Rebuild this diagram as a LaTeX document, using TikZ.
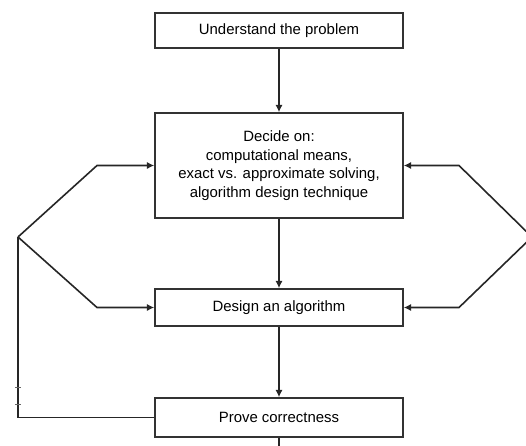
\documentclass[tikz,border=0pt]{standalone}
\usepackage{fontspec}
\setmainfont{Liberation Sans}
\usetikzlibrary{arrows.meta}

\begin{document}
\begin{tikzpicture}[x=0.75pt, y=-0.75pt,
    block/.style={draw=black!80, line width=1.2pt, minimum width=186pt, inner sep=0pt,
      align=center, font=\fontsize{11.2}{14}\selectfont},
    flow/.style={draw=black!85, line width=1.2pt, -{Latex[length=5.5pt,width=5.5pt]}},
    line/.style={draw=black!85, line width=1.2pt}]
      \useasboundingbox (0,0) rectangle (526,446);

      \node[block, minimum height=26.25pt] (understand) at (279,30.5) {Understand the problem};
      \node[block, minimum height=78.75pt] (decide) at (279,165.5)
        {Decide on:\\computational means,\\exact vs. approximate solving,\\algorithm design technique};
      \node[block, minimum height=27.75pt] (design) at (279,307.5) {Design an algorithm};
      \node[block, minimum height=29.25pt] (prove) at (279,417.5) {Prove correctness};

      % main column
      \draw[flow] (understand) to (decide);
      \draw[flow] (decide) to (design);
      \draw[flow] (design) to (prove);
      \coordinate (down) at (279,452);
      \draw[line] (prove) to (down);

      % feedback on the left
      \coordinate (lv) at (18,237);
      \coordinate (l1) at (97,165.5);
      \coordinate (l2) at (97,307.5);
      \draw[line] (prove.west) -| (lv);
      \draw[flow] (lv) -- (l1) -- (decide.west);
      \draw[flow] (lv) -- (l2) -- (design.west);
      \draw[black!60, line width=0.5pt] (15,387) -- (21,387) (15,404) -- (21,404);

      % feedback on the right
      \coordinate (rv) at (532,237);
      \coordinate (r1) at (459,165.5);
      \coordinate (r2) at (459,307.5);
      \draw[flow] (rv) -- (r1) -- (decide.east);
      \draw[flow] (rv) -- (r2) -- (design.east);
\end{tikzpicture}
\end{document}
